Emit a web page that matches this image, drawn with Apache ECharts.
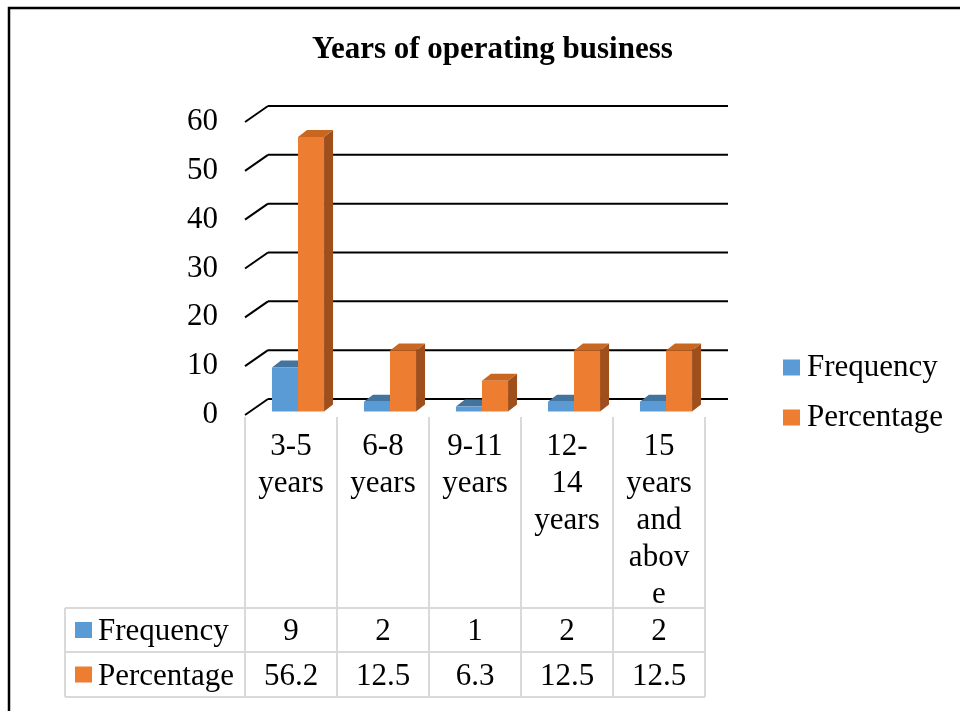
<!DOCTYPE html>
<html>
<head>
<meta charset="utf-8">
<script src="https://cdn.jsdelivr.net/npm/echarts@6/dist/echarts.min.js"></script>
<style>
  html, body { margin: 0; padding: 0; background: #fff; }
  #chart { width: 960px; height: 711px; }
</style>
</head>
<body>
<div id="chart"></div>
<script>
// data
const categories = ['3-5 years', '6-8 years', '9-11 years', '12-14 years', '15 years and above'];
// axis labels wrapped the way the picture wraps them
const categoryLabels = ['3-5\nyears', '6-8\nyears', '9-11\nyears', '12-\n14\nyears', '15\nyears\nand\nabov\ne'];
const frequency = [9, 2, 1, 2, 2];
const percentage = [56.2, 12.5, 6.3, 12.5, 12.5];
const yTicks = [0, 10, 20, 30, 40, 50, 60];
const seriesNames = ['Frequency', 'Percentage'];

// front / top / side colours
const blue = ['#5B9BD5', '#43739F', '#3A6690'];
const orange = ['#ED7D31', '#C9661F', '#9E4F1C'];

const FONT = 'Liberation Serif';
const WALL_X = 23, WALL_Y = 16;    // back wall offset
const PLANE_X = 7, PLANE_Y = 3.5;  // bars sit a little behind the front edge
const DEPTH_X = 9, DEPTH_Y = 7;    // bar thickness

let myChart = echarts.init(document.getElementById('chart'));

// back wall lines with the slanted bits at the left
function wallItem(params, api) {
  const cs = params.coordSys;
  const y = api.coord([0, api.value(1)])[1];
  const x = cs.x;
  const st = { stroke: '#000', lineWidth: 2 };
  return {
    type: 'group',
    children: [
      { type: 'line', shape: { x1: x, y1: y, x2: x + WALL_X, y2: y - WALL_Y }, style: st },
      { type: 'line', shape: { x1: x + WALL_X, y1: y - WALL_Y, x2: x + cs.width + WALL_X, y2: y - WALL_Y }, style: st }
    ]
  };
}

// a box shaped bar: side, top, front
function bar3d(col, side) {
  return function (params, api) {
    const i = api.value(0);
    const base = api.coord([i, 0]);
    const top = api.coord([i, api.value(1)]);
    const w = api.size([1, 0])[0] * 0.283;
    const x0 = base[0] + PLANE_X + side * w;
    const yb = base[1] - PLANE_Y;
    const yt = top[1] - PLANE_Y;
    return {
      type: 'group',
      children: [
        { type: 'polygon', shape: { points: [[x0 + w, yt], [x0 + w + DEPTH_X, yt - DEPTH_Y], [x0 + w + DEPTH_X, yb - DEPTH_Y], [x0 + w, yb]] }, style: { fill: col[2] } },
        { type: 'polygon', shape: { points: [[x0, yt], [x0 + w, yt], [x0 + w + DEPTH_X, yt - DEPTH_Y], [x0 + DEPTH_X, yt - DEPTH_Y]] }, style: { fill: col[1] } },
        { type: 'rect', shape: { x: x0, y: yt, width: w, height: yb - yt }, style: { fill: col[0] } }
      ]
    };
  };
}

// data table under the chart, one column per category
function tableItem(params, api) {
  const i = api.value(0);
  const c = api.coord([i, 0]);
  const bw = api.size([1, 0])[0];
  const l = c[0] - bw / 2, r = c[0] + bw / 2;
  const y0 = c[1];
  const row1 = y0 + 193, row2 = y0 + 237, bottom = y0 + 282;
  const grey = { stroke: '#D9D9D9', lineWidth: 2 };
  const txt = (text, x, y, align) => ({
    type: 'text',
    style: { text: text, x: x, y: y, align: align || 'center', verticalAlign: 'middle', fontSize: 31, fontFamily: FONT, fill: '#000' }
  });
  const kids = [
    { type: 'line', shape: { x1: l, y1: y0 + 2, x2: l, y2: bottom }, style: grey },
    { type: 'line', shape: { x1: l, y1: row1, x2: r, y2: row1 }, style: grey },
    { type: 'line', shape: { x1: l, y1: row2, x2: r, y2: row2 }, style: grey },
    { type: 'line', shape: { x1: l, y1: bottom, x2: r, y2: bottom }, style: grey },
    txt(String(api.value(1)), c[0], (row1 + row2) / 2 + 2),
    txt(api.value(2).toFixed(1), c[0], (row2 + bottom) / 2 + 2)
  ];
  if (i === categories.length - 1) {
    kids.push({ type: 'line', shape: { x1: r, y1: y0 + 2, x2: r, y2: bottom }, style: grey });
  }
  if (i === 0) {
    const hl = 65;
    kids.push(
      { type: 'line', shape: { x1: hl, y1: row1, x2: l, y2: row1 }, style: grey },
      { type: 'line', shape: { x1: hl, y1: row2, x2: l, y2: row2 }, style: grey },
      { type: 'line', shape: { x1: hl, y1: bottom, x2: l, y2: bottom }, style: grey },
      { type: 'line', shape: { x1: hl, y1: row1, x2: hl, y2: bottom }, style: grey },
      { type: 'rect', shape: { x: 75, y: (row1 + row2) / 2 - 8, width: 17, height: 16 }, style: { fill: blue[0] } },
      { type: 'rect', shape: { x: 75, y: (row2 + bottom) / 2 - 8, width: 17, height: 16 }, style: { fill: orange[0] } },
      txt(seriesNames[0], 98, (row1 + row2) / 2 + 2, 'left'),
      txt(seriesNames[1], 98, (row2 + bottom) / 2 + 2, 'left')
    );
  }
  return { type: 'group', children: kids };
}

myChart.setOption({
  animation: false,
  title: {
    text: 'Years of operating business',
    left: 307,
    top: 29,
    textStyle: { fontFamily: FONT, fontSize: 31, fontWeight: 'bold', color: '#000' }
  },
  legend: {
    data: seriesNames,
    orient: 'vertical',
    left: 783,
    top: 352,
    padding: 0,
    icon: 'rect',
    itemWidth: 17,
    itemHeight: 16,
    itemGap: 19,
    textStyle: { fontFamily: FONT, fontSize: 31, color: '#000', padding: [0, 0, 0, 2] }
  },
  graphic: [
    { type: 'rect', shape: { x: 9, y: 8, width: 1200, height: 1000 }, style: { fill: 'none', stroke: '#000', lineWidth: 2.5 }, z: -10 }
  ],
  grid: {
    left: 245,
    width: 460,
    top: 122,
    bottom: 296
  },
  xAxis: {
    type: 'category',
    data: categories,
    axisLine: { show: false },
    axisTick: { show: false },
    splitLine: { show: false },
    axisLabel: {
      interval: 0,
      margin: 13,
      lineHeight: 37,
      fontSize: 31,
      fontFamily: FONT,
      color: '#000',
      formatter: (v, idx) => categoryLabels[idx]
    }
  },
  yAxis: {
    type: 'value',
    min: 0,
    max: 60,
    interval: 10,
    axisLine: { show: false },
    axisTick: { show: false },
    splitLine: { show: false },
    axisLabel: { margin: 27, fontSize: 31, fontFamily: FONT, color: '#000' }
  },
  series: [
    {
      name: 'wall',
      type: 'custom',
      renderItem: wallItem,
      data: yTicks.map((v) => [0, v]),
      silent: true,
      z: 1
    },
    {
      name: seriesNames[0],
      type: 'custom',
      renderItem: bar3d(blue, -1),
      itemStyle: { color: blue[0] },
      data: frequency.map((v, i) => [i, v]),
      z: 2
    },
    {
      name: seriesNames[1],
      type: 'custom',
      renderItem: bar3d(orange, 0),
      itemStyle: { color: orange[0] },
      data: percentage.map((v, i) => [i, v]),
      z: 3
    },
    {
      name: 'table',
      type: 'custom',
      renderItem: tableItem,
      data: categories.map((c, i) => [i, frequency[i], percentage[i]]),
      silent: true,
      z: 1
    }
  ]
});
</script>
</body>
</html>
